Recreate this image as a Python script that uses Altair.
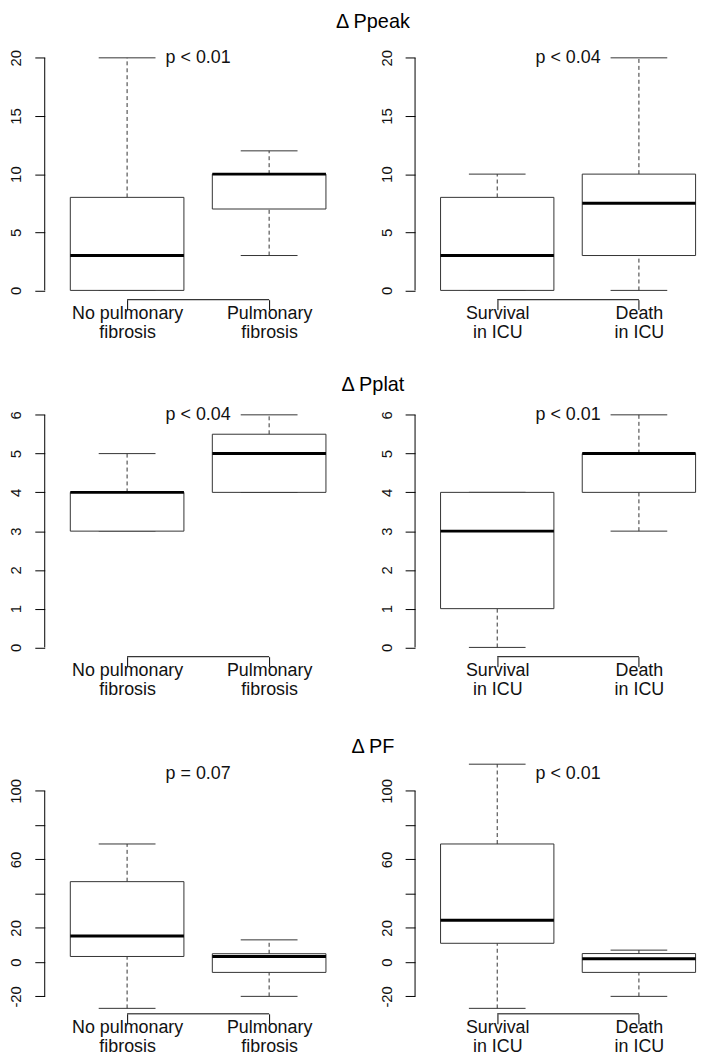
import json
import altair as alt
import pandas as pd

FONT = "Liberation Sans"
LINE = "#333333"

ROW_TITLES = ["Δ Ppeak", "Δ Pplat", "Δ PF"]
LEFT_GROUPS = ["No pulmonary\nfibrosis", "Pulmonary\nfibrosis"]
RIGHT_GROUPS = ["Survival\nin ICU", "Death\nin ICU"]

# Five-number summaries (whisker low, Q1, median, Q3, whisker high)
PPEAK_FIBROSIS = {"low": [0, 3], "q1": [0, 7], "median": [3, 10], "q3": [8, 10], "high": [20, 12]}
PPEAK_OUTCOME = {"low": [0, 0], "q1": [0, 3], "median": [3, 7.5], "q3": [8, 10], "high": [10, 20]}
PPLAT_FIBROSIS = {"low": [3, 4], "q1": [3, 4], "median": [4, 5], "q3": [4, 5.5], "high": [5, 6]}
PPLAT_OUTCOME = {"low": [0, 3], "q1": [1, 4], "median": [3, 5], "q3": [4, 5], "high": [4, 6]}
PF_FIBROSIS = {"low": [-27, -20], "q1": [3.3, -6], "median": [15.3, 3.3], "q3": [47, 4.9], "high": [69, 13]}
PF_OUTCOME = {"low": [-27, -20], "q1": [11, -6], "median": [24.5, 2], "q3": [69, 5], "high": [115.6, 7]}

P_LEFT = ["p < 0.01", "p < 0.04", "p = 0.07"]
P_RIGHT = ["p < 0.04", "p < 0.01", "p < 0.01"]
P_Y = [20, 6, 110]

Y_TICKS = [[0, 5, 10, 15, 20], [0, 1, 2, 3, 4, 5, 6], [-20, 0, 20, 40, 60, 80, 100]]
Y_LABELED = [[0, 5, 10, 15, 20], [0, 1, 2, 3, 4, 5, 6], [-20, 0, 20, 60, 100]]
Y_DOMAINS = [[-0.8, 20.8], [-0.24, 6.24], [-30.2, 116.5]]

X_DOMAIN_LEFT = [0.42, 2.58]
X_DOMAIN_RIGHT = [0.42, 2.41]
W_LEFT, W_RIGHT, PLOT_H = 309, 284, 253
BOX_HALF, CAP_HALF = 0.4, 0.2
TITLE_OFFSETS = [17, 11, 6]


def panel(stats, groups, ydom, yticks, ylabeled, ptext, py, xdom, width):
    df = pd.DataFrame({"pos": [1, 2], **stats})
    base = alt.Chart(df).transform_calculate(
        b0=f"datum.pos - {BOX_HALF}", b1=f"datum.pos + {BOX_HALF}",
        c0=f"datum.pos - {CAP_HALF}", c1=f"datum.pos + {CAP_HALF}",
    )
    xs = alt.Scale(domain=xdom, nice=False, zero=False)
    ys = alt.Scale(domain=ydom, nice=False, zero=False)
    label_arrays = "[" + ",".join(json.dumps(g.split("\n")) for g in groups) + "]"
    xaxis = alt.Axis(
        values=[1, 2], domain=False, grid=False, tickSize=10, tickColor="black",
        labelExpr=f"{label_arrays}[datum.value - 1]", labelFont=FONT, labelFontSize=18,
        labelColor="#111111", labelBaseline="top", labelPadding=-5, labelLineHeight=19,
        labelFlush=False, labelOverlap=False, minExtent=44, maxExtent=44,
    )
    yaxis = alt.Axis(
        values=yticks, domain=False, grid=False, tickSize=10, tickColor="black",
        labelExpr=f"indexof({json.dumps(ylabeled)}, datum.value) >= 0 ? toString(datum.value) : ''",
        labelFont=FONT, labelFontSize=15, labelColor="#111111", labelAngle=-90,
        labelAlign="center", labelBaseline="bottom", labelPadding=11,
        labelFlush=False, labelOverlap=False, minExtent=35, maxExtent=35,
    )

    def X(f):
        return alt.X(f, type="quantitative", scale=xs, axis=xaxis, title=None)

    def Y(f):
        return alt.Y(f, type="quantitative", scale=ys, axis=yaxis, title=None)

    yline = alt.Chart(pd.DataFrame({"x": [xdom[0]], "y0": [min(yticks)], "y1": [max(yticks)]})).mark_rule(
        color="black", strokeWidth=1).encode(x=X("x"), y=Y("y0"), y2="y1")
    bracket = alt.Chart(pd.DataFrame({"x0": [1], "x1": [2], "y": [ydom[0]]})).mark_rule(
        color="black", strokeWidth=1).encode(x=X("x0"), x2="x1", y=Y("y"))
    whisk_up = base.mark_rule(color=LINE, strokeWidth=1, strokeDash=[4, 3]).encode(x=X("pos"), y=Y("q3"), y2="high")
    whisk_dn = base.mark_rule(color=LINE, strokeWidth=1, strokeDash=[4, 3]).encode(x=X("pos"), y=Y("low"), y2="q1")
    cap_hi = base.mark_rule(color=LINE, strokeWidth=1).encode(x=X("c0:Q"), x2="c1:Q", y=Y("high"))
    cap_lo = base.mark_rule(color=LINE, strokeWidth=1).encode(x=X("c0:Q"), x2="c1:Q", y=Y("low"))
    box = base.mark_rect(fill="white", stroke=LINE, strokeWidth=1).encode(x=X("b0:Q"), x2="b1:Q", y=Y("q1"), y2="q3")
    med = base.mark_rule(color="black", strokeWidth=3).encode(x=X("b0:Q"), x2="b1:Q", y=Y("median"))
    ptxt = alt.Chart(pd.DataFrame({"x": [1.5], "y": [py], "t": [ptext]})).mark_text(
        font=FONT, fontSize=18, color="#111111", baseline="middle").encode(x=X("x"), y=Y("y"), text="t:N")
    return alt.layer(yline, bracket, whisk_up, whisk_dn, cap_hi, cap_lo, box, med, ptxt).properties(
        width=width, height=PLOT_H)


ROW_STATS = [(PPEAK_FIBROSIS, PPEAK_OUTCOME), (PPLAT_FIBROSIS, PPLAT_OUTCOME), (PF_FIBROSIS, PF_OUTCOME)]

rows = []
for i, (sl, sr) in enumerate(ROW_STATS):
    left = panel(sl, LEFT_GROUPS, Y_DOMAINS[i], Y_TICKS[i], Y_LABELED[i], P_LEFT[i], P_Y[i], X_DOMAIN_LEFT, W_LEFT)
    right = panel(sr, RIGHT_GROUPS, Y_DOMAINS[i], Y_TICKS[i], Y_LABELED[i], P_RIGHT[i], P_Y[i], X_DOMAIN_RIGHT, W_RIGHT)
    rows.append(alt.hconcat(left, right, spacing=27, title=alt.TitleParams(
        ROW_TITLES[i], font=FONT, fontSize=20, fontWeight="normal", color="black",
        anchor="middle", baseline="top", dx=20, offset=TITLE_OFFSETS[i])))

lower = alt.vconcat(rows[1], rows[2], spacing=36.7)
chart = alt.vconcat(rows[0], lower, spacing=31.6).properties(padding=0).configure_view(stroke=None)

chart.save("out.html", embed_options={"renderer": "svg", "actions": False})
